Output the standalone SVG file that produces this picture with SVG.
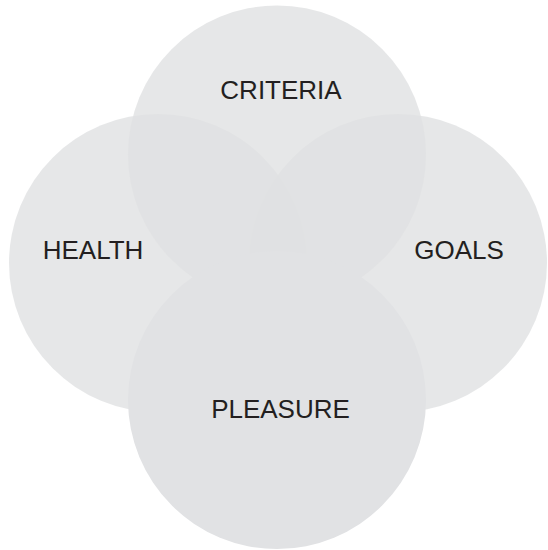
<svg xmlns="http://www.w3.org/2000/svg" width="548" height="550" viewBox="0 0 548 550">
  <style>
    .disc { fill: rgb(224,225,226); fill-opacity: 0.8; }
    .disc-front { fill: #e1e2e4; }
    .label { font-family: "Liberation Sans", Arial, sans-serif; font-size: 26px; fill: #231f20; text-anchor: middle; }
  </style>
  <rect width="548" height="550" fill="#ffffff"/>
  <g id="health">
    <circle class="disc" cx="158" cy="263" r="149"/>
    <text class="label" x="93" y="259">HEALTH</text>
  </g>
  <g id="goals">
    <circle class="disc" cx="398" cy="263" r="149"/>
    <text class="label" x="459" y="259">GOALS</text>
  </g>
  <g id="criteria">
    <circle class="disc" cx="277" cy="154.5" r="149"/>
    <text class="label" x="281" y="99">CRITERIA</text>
  </g>
  <!-- bottom disc sits in front of the others -->
  <g id="pleasure">
    <circle class="disc-front" cx="277" cy="400" r="149"/>
    <text class="label" x="280.5" y="418">PLEASURE</text>
  </g>
</svg>
